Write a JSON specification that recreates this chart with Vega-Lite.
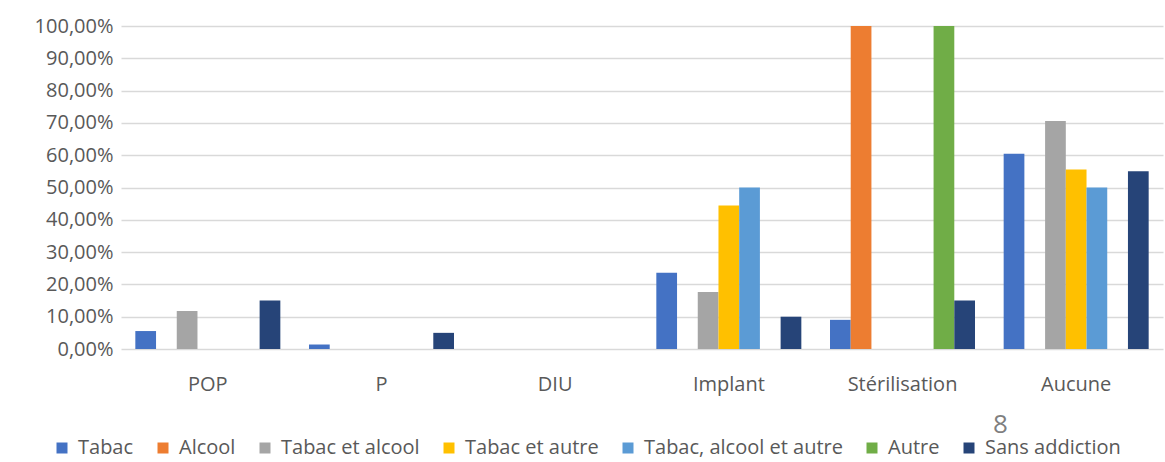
{
  "$schema": "https://vega.github.io/schema/vega-lite/v6.json",
  "width": 1042,
  "height": 323,
  "autosize": {"type": "none"},
  "padding": {"left": 121, "top": 26, "right": 2, "bottom": 113},
  "background": "white",
  "title": {"text": "8", "orient": "bottom", "anchor": "start", "dx": 959, "offset": -46, "fontSize": 26, "fontWeight": "normal", "color": "#7f7f7f", "font": "Open Sans"},
  "data": {
    "values": [
      {"methode": "POP", "addiction": "Tabac", "valeur": 0.0556},
      {"methode": "POP", "addiction": "Alcool", "valeur": 0},
      {"methode": "POP", "addiction": "Tabac et alcool", "valeur": 0.1176},
      {"methode": "POP", "addiction": "Tabac et autre", "valeur": 0},
      {"methode": "POP", "addiction": "Tabac, alcool et autre", "valeur": 0},
      {"methode": "POP", "addiction": "Autre", "valeur": 0},
      {"methode": "POP", "addiction": "Sans addiction", "valeur": 0.15},
      {"methode": "P", "addiction": "Tabac", "valeur": 0.0139},
      {"methode": "P", "addiction": "Alcool", "valeur": 0},
      {"methode": "P", "addiction": "Tabac et alcool", "valeur": 0},
      {"methode": "P", "addiction": "Tabac et autre", "valeur": 0},
      {"methode": "P", "addiction": "Tabac, alcool et autre", "valeur": 0},
      {"methode": "P", "addiction": "Autre", "valeur": 0},
      {"methode": "P", "addiction": "Sans addiction", "valeur": 0.05},
      {"methode": "DIU", "addiction": "Tabac", "valeur": 0},
      {"methode": "DIU", "addiction": "Alcool", "valeur": 0},
      {"methode": "DIU", "addiction": "Tabac et alcool", "valeur": 0},
      {"methode": "DIU", "addiction": "Tabac et autre", "valeur": 0},
      {"methode": "DIU", "addiction": "Tabac, alcool et autre", "valeur": 0},
      {"methode": "DIU", "addiction": "Autre", "valeur": 0},
      {"methode": "DIU", "addiction": "Sans addiction", "valeur": 0},
      {"methode": "Implant", "addiction": "Tabac", "valeur": 0.2361},
      {"methode": "Implant", "addiction": "Alcool", "valeur": 0},
      {"methode": "Implant", "addiction": "Tabac et alcool", "valeur": 0.1765},
      {"methode": "Implant", "addiction": "Tabac et autre", "valeur": 0.4444},
      {"methode": "Implant", "addiction": "Tabac, alcool et autre", "valeur": 0.5},
      {"methode": "Implant", "addiction": "Autre", "valeur": 0},
      {"methode": "Implant", "addiction": "Sans addiction", "valeur": 0.1},
      {"methode": "Stérilisation", "addiction": "Tabac", "valeur": 0.0903},
      {"methode": "Stérilisation", "addiction": "Alcool", "valeur": 1},
      {"methode": "Stérilisation", "addiction": "Tabac et alcool", "valeur": 0},
      {"methode": "Stérilisation", "addiction": "Tabac et autre", "valeur": 0},
      {"methode": "Stérilisation", "addiction": "Tabac, alcool et autre", "valeur": 0},
      {"methode": "Stérilisation", "addiction": "Autre", "valeur": 1},
      {"methode": "Stérilisation", "addiction": "Sans addiction", "valeur": 0.15},
      {"methode": "Aucune", "addiction": "Tabac", "valeur": 0.6042},
      {"methode": "Aucune", "addiction": "Alcool", "valeur": 0},
      {"methode": "Aucune", "addiction": "Tabac et alcool", "valeur": 0.7059},
      {"methode": "Aucune", "addiction": "Tabac et autre", "valeur": 0.5556},
      {"methode": "Aucune", "addiction": "Tabac, alcool et autre", "valeur": 0.5},
      {"methode": "Aucune", "addiction": "Autre", "valeur": 0},
      {"methode": "Aucune", "addiction": "Sans addiction", "valeur": 0.55}
    ]
  },
  "mark": {"type": "bar"},
  "encoding": {
    "x": {
      "field": "methode",
      "type": "nominal",
      "sort": ["POP", "P", "DIU", "Implant", "Stérilisation", "Aucune"],
      "scale": {"paddingInner": 0.165, "paddingOuter": 0.0825},
      "axis": {"title": null, "labelAngle": 0, "domain": false, "ticks": false, "grid": false, "labelPadding": 25, "labelFontSize": 20, "labelFont": "Open Sans", "labelColor": "#595959"}
    },
    "xOffset": {
      "field": "addiction",
      "type": "nominal",
      "sort": ["Tabac", "Alcool", "Tabac et alcool", "Tabac et autre", "Tabac, alcool et autre", "Autre", "Sans addiction"],
      "scale": {"paddingInner": 0, "paddingOuter": 0}
    },
    "y": {
      "field": "valeur",
      "type": "quantitative",
      "scale": {"domain": [0, 1]},
      "axis": {"title": null, "values": [0, 0.1, 0.2, 0.3, 0.4, 0.5, 0.6, 0.7, 0.8, 0.9, 1], "labelExpr": "replace(format(datum.value, '.2%'), '.', ',')", "domain": false, "ticks": false, "gridColor": "#d9d9d9", "gridWidth": 1.5, "labelPadding": 8, "labelFontSize": 20, "labelFont": "Open Sans", "labelColor": "#595959"}
    },
    "color": {
      "field": "addiction",
      "type": "nominal",
      "sort": ["Tabac", "Alcool", "Tabac et alcool", "Tabac et autre", "Tabac, alcool et autre", "Autre", "Sans addiction"],
      "scale": {
        "domain": ["Tabac", "Alcool", "Tabac et alcool", "Tabac et autre", "Tabac, alcool et autre", "Autre", "Sans addiction"],
        "range": ["#4472C4", "#ED7D31", "#A5A5A5", "#FFC000", "#5B9BD5", "#70AD47", "#264478"]
      },
      "legend": {"title": null, "orient": "none", "legendX": -69, "legendY": 412, "direction": "horizontal", "symbolType": "square", "symbolSize": 121, "symbolStrokeWidth": 0, "symbolOpacity": 1, "labelFontSize": 20, "labelFont": "Open Sans", "labelColor": "#595959", "labelOffset": 6, "columnPadding": 19, "labelLimit": 400}
    }
  },
  "config": {"view": {"stroke": null}}
}
